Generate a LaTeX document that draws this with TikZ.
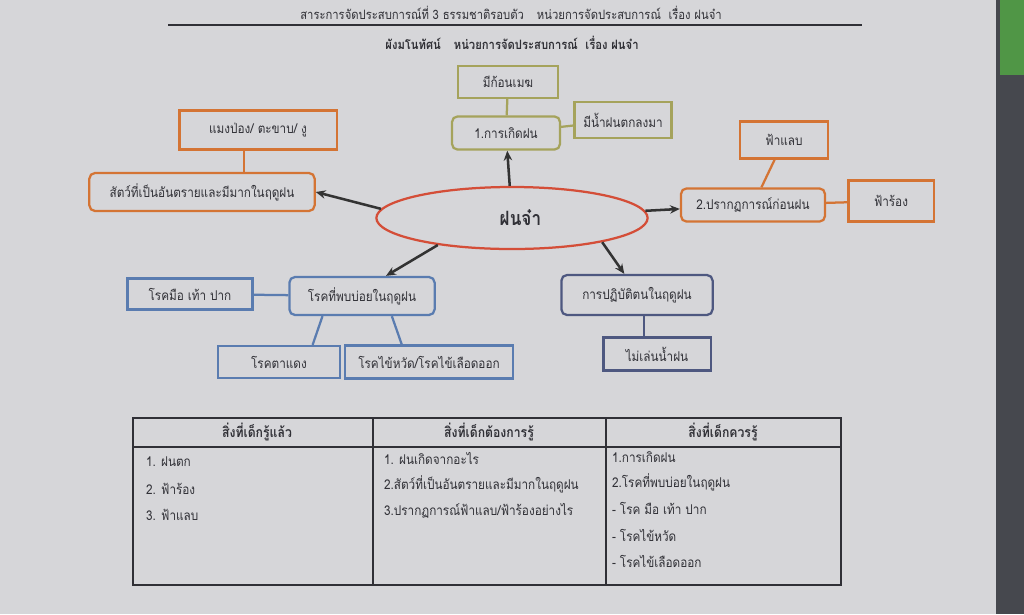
\documentclass[tikz,border=0pt]{standalone}
\usepackage{fontspec}
\newfontfamily\thaifont[Script=Thai,FakeStretch=0.87]{Loma}
\usetikzlibrary{arrows.meta,shapes.geometric}
\definecolor{paper}{RGB}{214,214,217}
\definecolor{edgedark}{RGB}{70,72,78}
\definecolor{leafgreen}{RGB}{80,150,70}
\definecolor{clouddrab}{RGB}{165,163,92}
\definecolor{animalrust}{RGB}{212,116,52}
\definecolor{sickblue}{RGB}{90,124,176}
\definecolor{careblue}{RGB}{78,88,128}
\definecolor{ringred}{RGB}{212,78,56}
\definecolor{ink}{RGB}{48,48,54}

\begin{document}
\begin{tikzpicture}[x=0.025cm,y=-0.025cm,line width=1.6pt,
  every node/.style={font=\thaifont\fontsize{9.6}{12}\selectfont,text=ink},
  box/.style={draw,shape=rectangle,inner sep=0pt},
  rbox/.style={box,rounded corners=4pt},
  link/.style={-{Stealth[length=7pt,width=6pt]},black!80,line width=1.8pt},
  headcell/.style={font=\thaifont\bfseries\fontsize{10}{12}\selectfont},
  cell/.style={anchor=west,inner sep=0pt}]
\useasboundingbox (0,0) rectangle (1024,614);
\fill[paper] (0,0) rectangle (1024,614);
\fill[edgedark] (996,0) rectangle (1024,614);
\fill[leafgreen] (1000,0) rectangle (1024,75);

\draw (511,13) node[font=\thaifont\fontsize{9.2}{11}\selectfont] (header) {สาระการจัดประสบการณ์ที่ 3 ธรรมชาติรอบตัว\quad หน่วยการจัดประสบการณ์\ \ เรื่อง ฝนจ๋า};
\draw[line width=0.8pt,ink] (168,25) -- (862,25);
\draw (512,43) node[font=\thaifont\bfseries\fontsize{9.2}{11}\selectfont] (title) {ผังมโนทัศน์\quad หน่วยการจัดประสบการณ์\ \ เรื่อง ฝนจ๋า};

\draw (512,218) node[draw=ringred,shape=ellipse,minimum width=6.78cm,minimum height=1.55cm,inner sep=0pt,font=\thaifont\bfseries\fontsize{14}{16}\selectfont] (main) {\hspace*{12pt}ฝนจ๋า};

\draw (508,82) node[box,draw=clouddrab,minimum width=2.5cm,minimum height=0.8cm] (cloud) {มีก้อนเมฆ};
\draw (506,133) node[rbox,draw=clouddrab,minimum width=2.7cm,minimum height=0.83cm] (rainform) {1.การเกิดฝน};
\draw (623,120) node[box,draw=clouddrab,minimum width=2.43cm,minimum height=0.9cm] (raindrop) {มีน้ำฝนตกลงมา};
\draw[clouddrab] (cloud) -- (rainform);
\draw[clouddrab] (rainform) -- (raindrop);

\draw (258,130) node[box,draw=animalrust,minimum width=3.93cm,minimum height=0.98cm] (pests) {แมงป่อง/ ตะขาบ/ งู};
\draw (202,192) node[rbox,draw=animalrust,minimum width=5.63cm,minimum height=0.95cm] (animal) {สัตว์ที่เป็นอันตรายและมีมากในฤดูฝน};
\draw[animalrust] (pests.236) -- (pests.236 |- animal.north);

\draw (784,140) node[box,draw=animalrust,minimum width=2.2cm,minimum height=0.93cm] (flash) {ฟ้าแลบ};
\draw (753,205) node[rbox,draw=animalrust,minimum width=3.6cm,minimum height=0.83cm] (omen) {2.ปรากฏการณ์ก่อนฝน};
\draw (891,201) node[box,draw=animalrust,minimum width=2.13cm,minimum height=1.03cm] (thunder) {ฟ้าร้อง};
\draw[animalrust] (flash) -- (omen);
\draw[animalrust] (omen) -- (thunder);

\draw (190,294) node[box,draw=sickblue,minimum width=3.13cm,minimum height=0.78cm] (hfmd) {โรคมือ เท้า ปาก};
\draw (362,296) node[rbox,draw=sickblue,minimum width=3.63cm,minimum height=0.95cm] (disease) {โรคที่พบบ่อยในฤดูฝน};
\draw (279,362) node[box,draw=sickblue,minimum width=3.05cm,minimum height=0.8cm] (pinkeye) {โรคตาแดง};
\draw (429,362) node[box,draw=sickblue,minimum width=4.2cm,minimum height=0.83cm] (fever) {โรคไข้หวัด/โรคไข้เลือดออก};
\draw[sickblue] (hfmd) -- (disease);
\draw[sickblue] (disease.207) -- (pinkeye.27);
\draw[sickblue] (disease.326) -- (fever.147);

\draw (637,295) node[rbox,draw=careblue,minimum width=3.78cm,minimum height=1cm] (conduct) {การปฏิบัติตนในฤดูฝน};
\draw (657,354) node[box,draw=careblue,minimum width=2.68cm,minimum height=0.83cm] (noplay) {ไม่เล่นน้ำฝน};
\draw[careblue] (noplay.126) -- (noplay.126 |- conduct.south);

\draw[link] (main) -- (rainform);
\draw[link] (main.176) -- (animal.east);
\draw[link] (main) -- (omen);
\draw[link] (main.200) -- (disease.40);
\draw[link] (main.345) -- (conduct.121);

\draw[line width=0.8pt,ink] (133,418) rectangle (841,585);
\draw[line width=0.8pt,ink] (133,447) -- (841,447);
\draw[line width=0.8pt,ink] (373,418) -- (373,585);
\draw[line width=0.8pt,ink] (606,418) -- (606,585);
\draw (257,432) node[headcell] (knowhead) {สิ่งที่เด็กรู้แล้ว};
\draw (489,432) node[headcell] (wanthead) {สิ่งที่เด็กต้องการรู้};
\draw (723,432) node[headcell] (shouldhead) {สิ่งที่เด็กควรรู้};
\draw (145,462) node[cell] (know1) {1. ฝนตก};
\draw (145,489) node[cell] (know2) {2. ฟ้าร้อง};
\draw (145,515) node[cell] (know3) {3. ฟ้าแลบ};
\draw (383,458) node[cell] (want1) {1. ฝนเกิดจากอะไร};
\draw (383,484) node[cell] (want2) {2.สัตว์ที่เป็นอันตรายและมีมากในฤดูฝน};
\draw (383,511) node[cell] (want3) {3.ปรากฏการณ์ฟ้าแลบ/ฟ้าร้องอย่างไร};
\draw (611,457) node[cell] (should1) {1.การเกิดฝน};
\draw (611,482) node[cell] (should2) {2.โรคที่พบบ่อยในฤดูฝน};
\draw (611,508) node[cell] (should3) {- โรค มือ เท้า ปาก};
\draw (611,535) node[cell] (should4) {- โรคไข้หวัด};
\draw (611,561) node[cell] (should5) {- โรคไข้เลือดออก};
\end{tikzpicture}
\end{document}
